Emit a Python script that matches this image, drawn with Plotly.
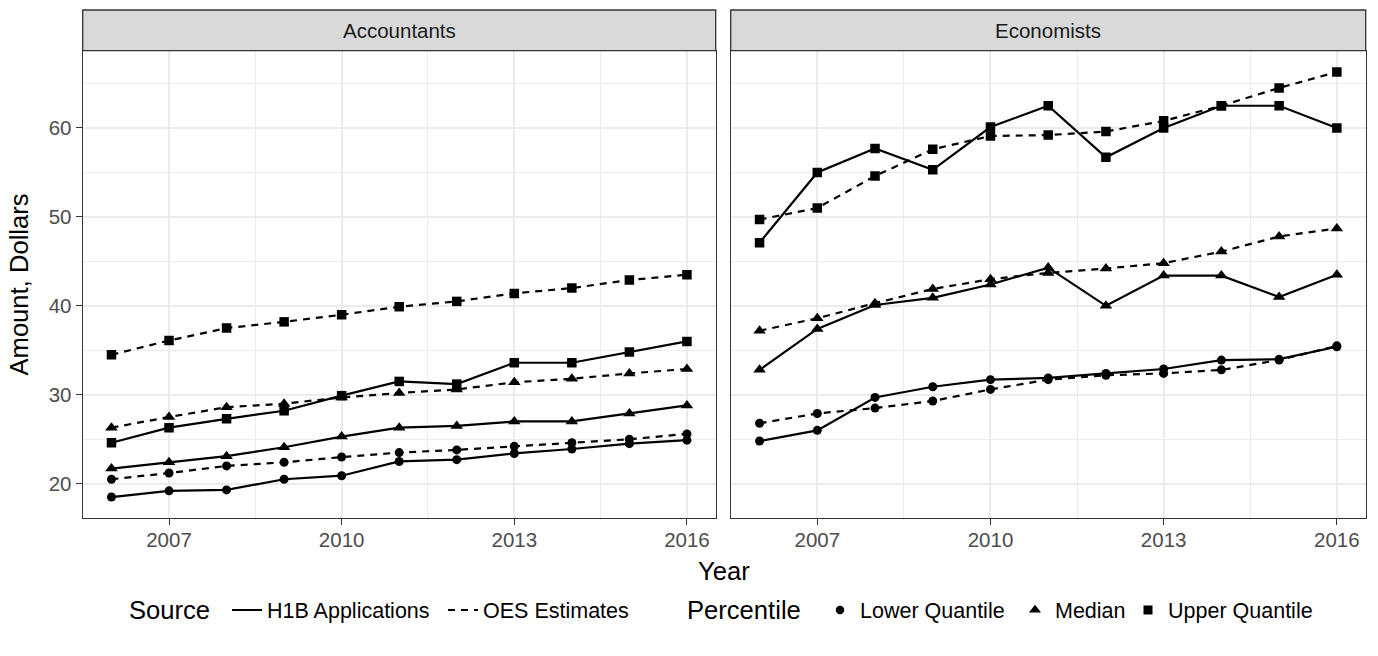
import plotly.graph_objects as go

# ---- data -------------------------------------------------------------
years = list(range(2006, 2017))
panels = ["Accountants", "Economists"]

# Accountants (dollars per hour)
acc_h1b_lower = [18.5, 19.2, 19.3, 20.5, 20.9, 22.5, 22.7, 23.4, 23.9, 24.5, 24.9]
acc_h1b_median = [21.7, 22.4, 23.1, 24.1, 25.3, 26.3, 26.5, 27.0, 27.0, 27.9, 28.8]
acc_h1b_upper = [24.6, 26.3, 27.3, 28.2, 29.9, 31.5, 31.2, 33.6, 33.6, 34.8, 36.0]
acc_oes_lower = [20.5, 21.2, 22.0, 22.4, 23.0, 23.5, 23.8, 24.2, 24.6, 25.0, 25.6]
acc_oes_median = [26.3, 27.5, 28.6, 29.0, 29.7, 30.2, 30.6, 31.4, 31.8, 32.4, 32.9]
acc_oes_upper = [34.5, 36.1, 37.5, 38.2, 39.0, 39.9, 40.5, 41.4, 42.0, 42.9, 43.5]

# Economists (dollars per hour)
eco_h1b_lower = [24.8, 26.0, 29.7, 30.9, 31.7, 31.9, 32.4, 32.9, 33.9, 34.0, 35.4]
eco_h1b_median = [32.8, 37.4, 40.1, 40.9, 42.4, 44.3, 40.0, 43.4, 43.4, 41.0, 43.5]
eco_h1b_upper = [47.1, 55.0, 57.7, 55.3, 60.1, 62.5, 56.7, 60.0, 62.5, 62.5, 60.0]
eco_oes_lower = [26.8, 27.9, 28.5, 29.3, 30.6, 31.7, 32.2, 32.4, 32.8, 33.9, 35.5]
eco_oes_median = [37.2, 38.6, 40.3, 41.9, 43.0, 43.7, 44.2, 44.8, 46.1, 47.8, 48.7]
eco_oes_upper = [49.7, 51.0, 54.6, 57.6, 59.1, 59.2, 59.6, 60.8, 62.5, 64.5, 66.3]

sources = ["H1B Applications", "OES Estimates"]
percentiles = ["Lower Quantile", "Median", "Upper Quantile"]

x_ticks = [2007, 2010, 2013, 2016]
y_ticks = [20, 30, 40, 50, 60]

series = {
    ("Accountants", "H1B Applications", "Lower Quantile"): acc_h1b_lower,
    ("Accountants", "H1B Applications", "Median"): acc_h1b_median,
    ("Accountants", "H1B Applications", "Upper Quantile"): acc_h1b_upper,
    ("Accountants", "OES Estimates", "Lower Quantile"): acc_oes_lower,
    ("Accountants", "OES Estimates", "Median"): acc_oes_median,
    ("Accountants", "OES Estimates", "Upper Quantile"): acc_oes_upper,
    ("Economists", "H1B Applications", "Lower Quantile"): eco_h1b_lower,
    ("Economists", "H1B Applications", "Median"): eco_h1b_median,
    ("Economists", "H1B Applications", "Upper Quantile"): eco_h1b_upper,
    ("Economists", "OES Estimates", "Lower Quantile"): eco_oes_lower,
    ("Economists", "OES Estimates", "Median"): eco_oes_median,
    ("Economists", "OES Estimates", "Upper Quantile"): eco_oes_upper,
}

# ---- styling ------------------------------------------------------------
FONT = "Liberation Sans, Arial, Helvetica, sans-serif"
W, H = 1378, 656
dash_of = {"H1B Applications": "solid", "OES Estimates": "7px,6px"}
symbol_of = {"Lower Quantile": "circle", "Median": "triangle-up", "Upper Quantile": "square"}
size_of = {"Lower Quantile": 9, "Median": 11, "Upper Quantile": 9.5}
LINE_W = 2.2
GRID = "#EBEBEB"
BORDER = "#333333"
TICK_SIZE = 20.5
TITLE_SIZE = 25.6
LEGEND_SIZE = 21.5

# panel geometry in pixels
panel_x = {"Accountants": (82.7, 715.7), "Economists": (730.7, 1365.7)}
panel_top, panel_bottom, strip_top = 50.7, 518.3, 10.0
legend_mid = 610
# left edge of each legend entry, and of the two legend titles
entry_left = {"H1B Applications": 227, "OES Estimates": 443,
              "Lower Quantile": 820, "Median": 1015, "Upper Quantile": 1128}
legend_titles = {"Source": 127, "Percentile": 685}


def px_x(v):
    return v / W


def px_y(v):
    return 1 - v / H


fig = go.Figure()

axis_ids = {"Accountants": ("x", "y"), "Economists": ("x2", "y2")}
for (panel, src, pct), vals in series.items():
    xa, ya = axis_ids[panel]
    fig.add_trace(go.Scatter(
        x=years, y=vals, xaxis=xa, yaxis=ya,
        mode="lines+markers",
        line=dict(color="black", width=LINE_W, dash=dash_of[src]),
        marker=dict(symbol=symbol_of[pct], size=size_of[pct], color="black"),
        showlegend=False, hoverinfo="skip",
    ))

# one legend per entry so that each key sits where it belongs
legend_layout = {}
entries = [(s, "line") for s in sources] + [(p, "marker") for p in percentiles]
for i, (name, kind) in enumerate(entries):
    lid = "legend" if i == 0 else f"legend{i + 1}"
    if kind == "line":
        tr = go.Scatter(x=[None], y=[None], mode="lines", name=name, legend=lid,
                        line=dict(color="black", width=LINE_W, dash=dash_of[name]))
    else:
        tr = go.Scatter(x=[None], y=[None], mode="markers", name=name, legend=lid,
                        marker=dict(symbol=symbol_of[name], size=size_of[name] - 0.5,
                                    color="black"))
    fig.add_trace(tr)
    legend_layout[lid] = dict(
        orientation="h", x=px_x(entry_left[name]), y=px_y(legend_mid),
        xanchor="left", yanchor="middle",
        font=dict(family=FONT, size=LEGEND_SIZE, color="black"),
        itemwidth=30, bgcolor="rgba(0,0,0,0)", borderwidth=0,
    )

# axis ranges with 5% expansion like the default continuous scale
all_vals = [v for vals in series.values() for v in vals]
lo, hi = min(all_vals), max(all_vals)
pad = 0.05 * (hi - lo)
y_range = [lo - pad, hi + pad]
xpad = 0.05 * (max(years) - min(years))
x_range = [min(years) - xpad, max(years) + xpad]

x_minor = [(a + b) / 2 for a, b in zip([x_ticks[0] - 3] + x_ticks[:-1], x_ticks)]
y_minor = [t + 5 for t in [y_ticks[0] - 10] + y_ticks]

common_x = dict(
    range=x_range, tickmode="array", tickvals=x_ticks,
    ticks="outside", ticklen=6, tickwidth=1.1, tickcolor=BORDER,
    tickfont=dict(family=FONT, size=TICK_SIZE, color="#4D4D4D"),
    ticklabelstandoff=-3,
    showgrid=True, gridcolor=GRID, gridwidth=2,
    minor=dict(tickmode="array", tickvals=x_minor, showgrid=True,
               gridcolor=GRID, gridwidth=1, ticks=""),
    showline=True, linecolor=BORDER, linewidth=1.3, mirror=True,
    zeroline=False, fixedrange=True,
)
common_y = dict(
    range=y_range, tickmode="array", tickvals=y_ticks,
    showgrid=True, gridcolor=GRID, gridwidth=2,
    minor=dict(tickmode="array", tickvals=y_minor, showgrid=True,
               gridcolor=GRID, gridwidth=1, ticks=""),
    showline=True, linecolor=BORDER, linewidth=1.3, mirror=True,
    zeroline=False, fixedrange=True,
    domain=[px_y(panel_bottom), px_y(panel_top)],
)

fig.update_layout(
    width=W, height=H,
    margin=dict(l=0, r=0, t=0, b=0, autoexpand=False),
    paper_bgcolor="white", plot_bgcolor="white",
    font=dict(family=FONT, color="black"),
    xaxis=dict(common_x, domain=[px_x(panel_x["Accountants"][0]), px_x(panel_x["Accountants"][1])], anchor="y"),
    xaxis2=dict(common_x, domain=[px_x(panel_x["Economists"][0]), px_x(panel_x["Economists"][1])], anchor="y2"),
    yaxis=dict(common_y, anchor="x", ticks="outside", ticklen=6, tickwidth=1.1,
               tickcolor=BORDER, tickfont=dict(family=FONT, size=TICK_SIZE, color="#4D4D4D")),
    yaxis2=dict(common_y, anchor="x2", matches="y", showticklabels=False, ticks=""),
    **legend_layout,
)

# legend titles
for text, left in legend_titles.items():
    fig.add_annotation(xref="paper", yref="paper", x=px_x(left), y=px_y(legend_mid),
                       text=text, showarrow=False, xanchor="left", yanchor="middle",
                       font=dict(family=FONT, size=TITLE_SIZE, color="black"))

# facet strips
for panel in panels:
    x0, x1 = panel_x[panel]
    fig.add_shape(type="rect", xref="paper", yref="paper",
                  x0=px_x(x0), x1=px_x(x1), y0=px_y(panel_top), y1=px_y(strip_top),
                  fillcolor="#D9D9D9", line=dict(color=BORDER, width=1.3), layer="above")
    fig.add_annotation(xref="paper", yref="paper", x=px_x((x0 + x1) / 2),
                       y=px_y((panel_top + strip_top) / 2), text=panel, showarrow=False,
                       xanchor="center", yanchor="middle",
                       font=dict(family=FONT, size=TICK_SIZE, color="#1A1A1A"))

# axis titles
fig.add_annotation(xref="paper", yref="paper",
                   x=px_x((panel_x["Accountants"][0] + panel_x["Economists"][1]) / 2),
                   y=px_y(571), text="Year", showarrow=False,
                   xanchor="center", yanchor="middle",
                   font=dict(family=FONT, size=TITLE_SIZE, color="black"))
fig.add_annotation(xref="paper", yref="paper", x=px_x(18),
                   y=px_y((panel_top + panel_bottom) / 2), text="Amount, Dollars",
                   showarrow=False, textangle=-90, xanchor="center", yanchor="middle",
                   font=dict(family=FONT, size=TITLE_SIZE, color="black"))

fig.write_html("out.html")
